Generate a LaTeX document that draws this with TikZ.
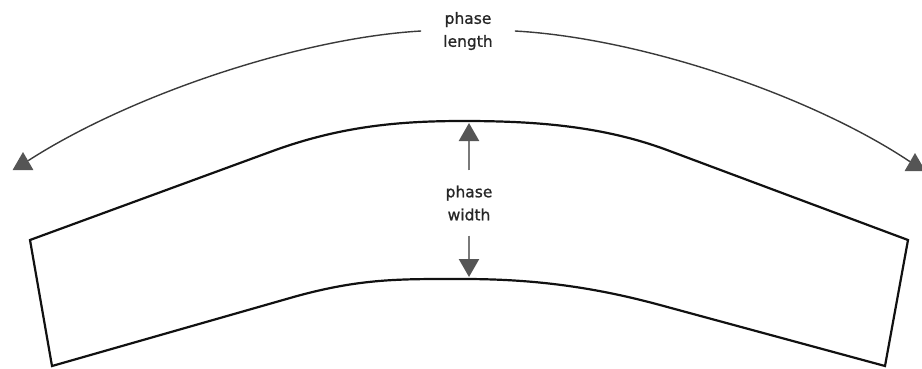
\documentclass[tikz,border=0pt]{standalone}
\usepackage{fontspec}
\setmainfont{DejaVu Sans}[FakeBold=1]
\usetikzlibrary{arrows.meta,shapes.geometric}
\definecolor{ink}{HTML}{262626}
\definecolor{bandline}{HTML}{111111}
\definecolor{arcgray}{HTML}{3A3A3A}
\definecolor{tipgray}{HTML}{555555}
\definecolor{shaft}{HTML}{7A7A7A}

\begin{document}
\begin{tikzpicture}[x=1pt,y=-1pt,>=Latex, lab/.style={align=center,text=ink,font=\fontsize{15.5}{23}\selectfont,inner ysep=0pt,inner xsep=22pt}, marker/.style={regular polygon,regular polygon sides=3,fill=tipgray,inner sep=0pt,minimum size=24pt}, sweep/.style={draw=arcgray,line width=1.4pt}, measure/.style={draw=shaft,line width=2.4pt,-{Triangle[width=20pt,length=18pt,color=tipgray]}}]
  \useasboundingbox (0,0) rectangle (922,369);
  % the phase band
  \draw[bandline,line width=2.2pt] (30,240) -- (270,152) .. controls (340,126) and (400,121) .. (463,121) .. controls (530,121) and (600,125) .. (667,150) -- (908,240) -- (885,366) -- (660,305) .. controls (590,286) and (530,279) .. (463,279) .. controls (400,279) and (360,278) .. (290,298) -- (52,366) -- cycle;
  \node[lab] (len) at (468,31) {phase\\length};
  \node[marker] (mkL) at (23,164) {};
  \node[marker] (mkR) at (915,165) {};
  \draw[sweep] (len.west) .. controls (300,38) and (130,95) .. (mkL);
  \draw[sweep] (len.east) .. controls (640,38) and (810,95) .. (mkR);
  % width arrows
  \node[lab,inner ysep=15pt] (wid) at (469,203) {phase\\width};
  \coordinate (topT) at (469,123);
  \coordinate (botT) at (469,277);
  \draw[measure] (wid) -- (topT);
  \draw[measure] (wid) -- (botT);
\end{tikzpicture}
\end{document}
